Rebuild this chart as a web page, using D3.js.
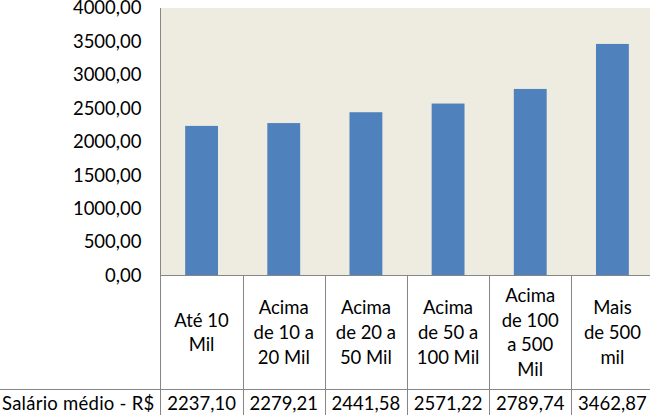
<!DOCTYPE html>
<html><head><meta charset="utf-8">
<script src="https://cdn.jsdelivr.net/npm/d3@7"></script>
<style>body{margin:0;background:#fff}svg{display:block}text{font-family:Lato,"Open Sans",sans-serif;fill:#000}</style>
</head><body>
<script>
const categories = [["Até 10","Mil"],["Acima","de 10 a","20 Mil"],["Acima","de 20 a","50 Mil"],["Acima","de 50 a","100 Mil"],["Acima","de 100","a 500","Mil"],["Mais","de 500","mil"]];
const values = [2237.10, 2279.21, 2441.58, 2571.22, 2789.74, 3462.87];
const yTicks = [0,500,1000,1500,2000,2500,3000,3500,4000];
const seriesName = "Salário médio - R$";

(function(){
const W=650,H=415;
const svg=d3.select("body").append("svg").attr("width",W).attr("height",H);
const left=160.5, right=653.5, plotTop=8, base=275.5, tableLine=389.5;
const fs=18.5;
const fmt=v=>d3.format(".2f")(v).replace(".",",");
const ids=categories.map((c,i)=>i);
const x=d3.scaleBand().domain(ids).range([left,right]).paddingInner(0.6).paddingOuter(0.3);
const step=(right-left)/categories.length;
const y=d3.scaleLinear().domain([0,4000]).range([base,plotTop]);

svg.append("rect").attr("x",left).attr("y",plotTop).attr("width",right-left).attr("height",base-plotTop).attr("fill","#EEECE1");
svg.selectAll("rect.bar").data(values).join("rect").attr("class","bar")
  .attr("x",(d,i)=>x(i)).attr("width",x.bandwidth())
  .attr("y",d=>y(d)).attr("height",d=>base-y(d)).attr("fill","#4F81BD");

const ax=svg.append("g").attr("transform",`translate(${left},0)`)
  .call(d3.axisLeft(y).tickValues(yTicks).tickSize(0).tickPadding(19).tickFormat(fmt));
ax.select(".domain").remove();
ax.selectAll("text").style("font-size",fs+"px").style("font-family","Lato").attr("fill","#000");

const lc="#868686";
svg.append("line").attr("x1",left).attr("x2",left).attr("y1",plotTop).attr("y2",H).attr("stroke",lc);
svg.append("line").attr("x1",left).attr("x2",W).attr("y1",base).attr("y2",base).attr("stroke",lc);
svg.append("line").attr("x1",0).attr("x2",W).attr("y1",tableLine).attr("y2",tableLine).attr("stroke",lc);
ids.slice(1).forEach(i=>{
  const xx=Math.round(left+step*i)+0.5;
  svg.append("line").attr("x1",xx).attr("x2",xx).attr("y1",base).attr("y2",H).attr("stroke",lc);
});

const lh=24.7, mid=(base+tableLine)/2;
categories.forEach((lines,i)=>{
  const cx=x(i)+x.bandwidth()/2;
  const t=svg.append("text").attr("text-anchor","middle").style("font-size",fs+"px");
  lines.forEach((l,j)=>{
    t.append("tspan").attr("x",cx).attr("y",mid+(j-(lines.length-1)/2)*lh).attr("dy","0.35em").text(l);
  });
  svg.append("text").attr("x",cx).attr("y",404).attr("dy","0.35em").attr("text-anchor","middle").style("font-size",fs+"px").text(fmt(values[i]));
});
svg.append("text").attr("x",2).attr("y",404).attr("dy","0.35em").style("font-size",fs+"px").style("letter-spacing","0.25px").text(seriesName);
})();
</script>
</body></html>
